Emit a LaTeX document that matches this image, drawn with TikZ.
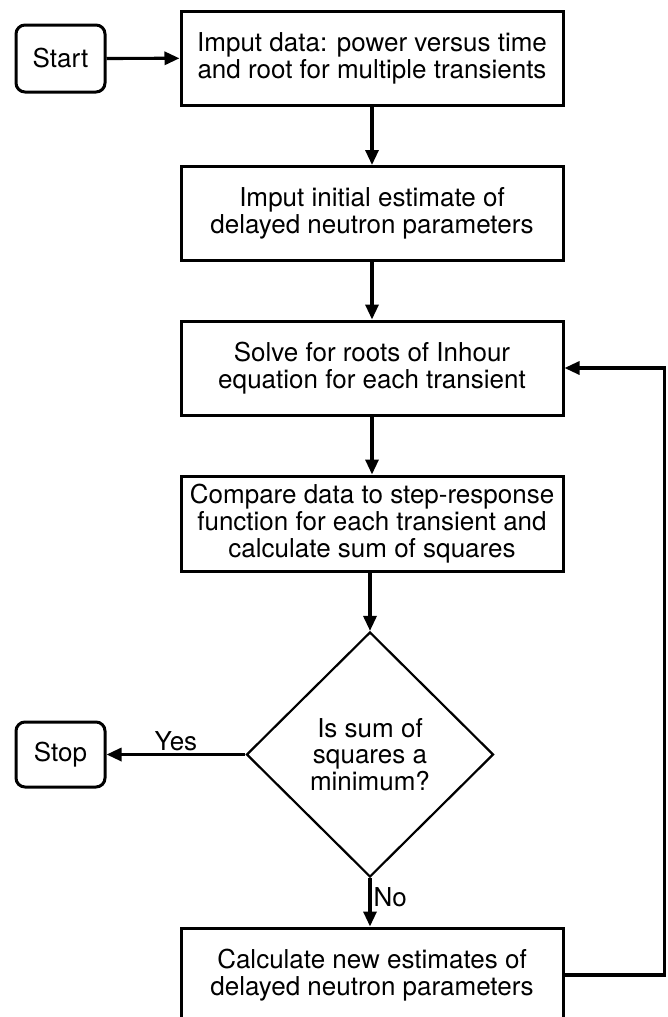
\documentclass[tikz,border=0pt]{standalone}
\usepackage{fontspec}
\setmainfont{TeX Gyre Heros}
\usetikzlibrary{shapes.geometric,arrows.meta}

\tikzset{
  procbox/.style={draw, line width=3pt, minimum width=382pt, minimum height=94pt,
                  inner sep=0pt, align=center, font=\fontsize{26}{27}\selectfont},
  termbox/.style={draw, line width=3pt, rounded corners=9pt, minimum width=89pt,
                  inner sep=0pt, font=\fontsize{26}{27}\selectfont},
  testbox/.style={draw, diamond, line width=2.2pt, minimum width=247pt, minimum height=245pt,
                  inner sep=0pt, align=center, font=\fontsize{26}{26.5}\selectfont},
  flow/.style={line width=3.2pt, -{Triangle[length=15pt,width=13pt]}},
  flowlabel/.style={font=\fontsize{26}{27}\selectfont, inner sep=2pt}
}

\begin{document}
\begin{tikzpicture}[x=1pt, y=-1pt]
  \useasboundingbox (0,0) rectangle (668,1017);

  \node (start)   [termbox, minimum height=67pt] at (60.5,58.5) {Start};
  \node (input)   [procbox] at (372,58)    {Imput data: power versus time\\and root for multiple transients};
  \node (init)    [procbox] at (372,213.5) {Imput initial estimate of\\delayed neutron parameters};
  \node (solve)   [procbox] at (372,368)   {Solve for roots of Inhour\\equation for each transient};
  \node (compare) [procbox, minimum height=95pt] at (372,523.5)
    {Compare data to step-response\\function for each transient and\\calculate sum of squares};
  \node (test)    [testbox] at (370,754.5) {Is sum of\\squares a\\minimum?};
  \node (stop)    [termbox, minimum height=65pt] at (60.5,754.5) {Stop};
  \node (update)  [procbox] at (372,975)   {Calculate new estimates of\\delayed neutron parameters};

  \draw[flow] (start) -- (input);
  \draw[flow] (input) -- (init);
  \draw[flow] (init) -- (solve);
  \draw[flow] (solve) -- (compare);
  \draw[flow] (compare.south -| test.north) -- (test.north);
  \draw[flow] (test.west) -- node[flowlabel, above] {Yes} (stop.east);
  \draw[flow] (test.south) -- node[flowlabel, right, pos=0.4] {No} (update.north -| test.south);
  \draw[flow] (update.east) -- ++(100,0) |- (solve.east);
\end{tikzpicture}
\end{document}
